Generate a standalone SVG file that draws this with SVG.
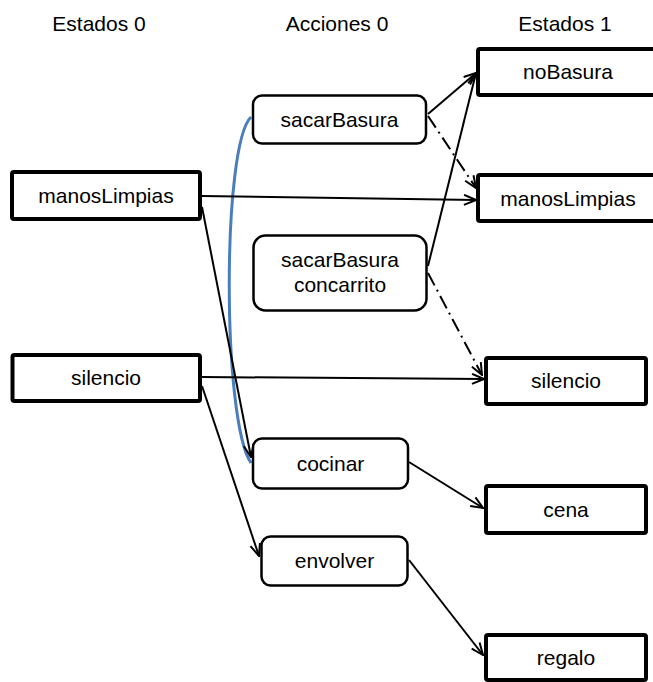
<svg xmlns="http://www.w3.org/2000/svg" width="653" height="682" viewBox="0 0 653 682">
<style>
text{font-family:"Liberation Sans",Arial,sans-serif;font-size:21px;fill:#000;text-anchor:middle}
.state{fill:#fff;stroke:#000;stroke-width:4}
.act{fill:#fff;stroke:#000;stroke-width:2.5}
.c{fill:none;stroke:#000;stroke-width:2;marker-end:url(#arr)}
.dd{stroke-dasharray:14 5 2 5}
.blue{fill:none;stroke:#4a7ebb;stroke-width:3}
</style>
<defs>
<marker id="arr" viewBox="0 0 14 12" refX="13" refY="6" markerWidth="14" markerHeight="12" markerUnits="userSpaceOnUse" orient="auto">
<path d="M1,1 L13,6 L1,11" fill="none" stroke="#000" stroke-width="2"/>
</marker>
</defs>
<g id="headers">
<text x="99" y="31">Estados 0</text>
<text x="337" y="31">Acciones 0</text>
<text x="565" y="31">Estados 1</text>
</g>
<g id="connectors">
<path class="blue" d="M251 117 C222 145 222 420 251 463"/>
<path class="c" d="M428 114 L476 73"/>
<path class="c" d="M428 266 L476 73"/>
<path class="c dd" d="M428 116 L476 188"/>
<path class="c" d="M202 196 L476 200"/>
<path class="c" d="M202 207 L251 457"/>
<path class="c" d="M202 377 L484 379"/>
<path class="c" d="M202 386 L259 556"/>
<path class="c dd" d="M428 273 L482 375"/>
<path class="c" d="M409 462 L483 508"/>
<path class="c" d="M409 560 L483 655"/>
</g>
<g id="s0-manosLimpias"><rect class="state" x="12" y="172" width="188" height="47" rx="2"/><text x="106" y="203">manosLimpias</text></g>
<g id="s0-silencio"><rect class="state" x="12.5" y="355" width="187.5" height="46" rx="2"/><text x="106" y="385">silencio</text></g>
<g id="a-sacarBasura"><rect class="act" x="253" y="95.5" width="173" height="48" rx="9"/><text x="339.5" y="127">sacarBasura</text></g>
<g id="a-sacarBasuraConcarrito"><rect class="act" x="253.5" y="235.5" width="173" height="75" rx="12"/><text x="340" y="267">sacarBasura</text><text x="340" y="292">concarrito</text></g>
<g id="a-cocinar"><rect class="act" x="253" y="438.5" width="155" height="50" rx="9"/><text x="330.5" y="471">cocinar</text></g>
<g id="a-envolver"><rect class="act" x="261.5" y="536.5" width="146" height="49" rx="9"/><text x="334.5" y="568">envolver</text></g>
<g id="s1-noBasura"><rect class="state" x="478" y="49" width="200" height="46" rx="2"/><text x="568" y="79">noBasura</text></g>
<g id="s1-manosLimpias"><rect class="state" x="478" y="175" width="200" height="46" rx="2"/><text x="568" y="206">manosLimpias</text></g>
<g id="s1-silencio"><rect class="state" x="486" y="358" width="160" height="46" rx="2"/><text x="566" y="388">silencio</text></g>
<g id="s1-cena"><rect class="state" x="486" y="486" width="160" height="47" rx="2"/><text x="566" y="517">cena</text></g>
<g id="s1-regalo"><rect class="state" x="486" y="635" width="160" height="45" rx="2"/><text x="566" y="665">regalo</text></g>
</svg>
